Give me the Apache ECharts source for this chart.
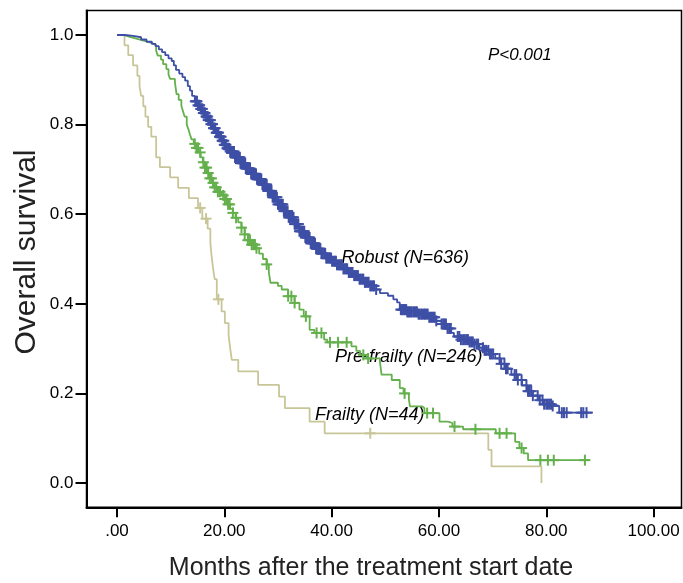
<!DOCTYPE html>
<html>
<head>
<meta charset="utf-8">
<script src="https://cdn.jsdelivr.net/npm/echarts/dist/echarts.min.js"></script>
<style>
html,body{margin:0;padding:0;background:#fff;}
#chart{width:683px;height:583px;}
</style>
</head>
<body>
<div id="chart"></div>
<script>
// ---- Data ----
var xTickValues = [0, 20, 40, 60, 80, 100];
var xTickLabels = ['.00', '20.00', '40.00', '60.00', '80.00', '100.00'];
var yTickValues = [0, 0.2, 0.4, 0.6, 0.8, 1.0];
var yTickLabels = ['0.0', '0.2', '0.4', '0.6', '0.8', '1.0'];

var groupNames = ['Robust (N=636)', 'Pre-frailty (N=246)', 'Frailty (N=44)'];

// Kaplan-Meier steps: [month, survival after event]
var robustSteps = [[0,1],[1.5,0.998],[3,0.995],[4.5,0.99],[5.5,0.985],[6.5,0.98],[7.2,0.975],[7.8,0.968],[8.4,0.962],[9.0,0.955],[9.6,0.948],[10.2,0.942],[10.6,0.932],[11.0,0.922],[11.6,0.914],[12.2,0.906],[12.7,0.898],[13.2,0.886],[13.6,0.876],[14.0,0.864],[14.5,0.852],[15,0.843],[15.5,0.835],[16,0.826],[16.5,0.818],[17,0.81],[17.5,0.801],[18,0.792],[18.5,0.782],[19,0.773],[19.5,0.764],[20,0.755],[20.5,0.747],[21,0.74],[22,0.727],[23,0.714],[24,0.702],[25,0.69],[26,0.678],[27,0.666],[28,0.652],[29,0.638],[30,0.622],[31,0.607],[32,0.593],[33,0.578],[34,0.562],[35,0.548],[36,0.535],[37,0.523],[38,0.512],[39,0.502],[40,0.495],[41,0.487],[42,0.478],[43,0.47],[44,0.463],[45,0.455],[46,0.448],[47,0.44],[48,0.432],[49,0.424],[50.5,0.418],[51.5,0.41],[52.2,0.403],[52.7,0.387],[54,0.382],[56,0.377],[58,0.37],[59.5,0.362],[60.5,0.355],[61.5,0.345],[62.3,0.335],[62.8,0.327],[64,0.32],[65.5,0.315],[66.5,0.31],[67.5,0.302],[68.5,0.296],[69.5,0.288],[70.5,0.278],[71.5,0.266],[72.5,0.255],[73.5,0.242],[74.5,0.23],[75.5,0.218],[76.5,0.205],[77.5,0.195],[78.5,0.185],[79.5,0.176],[81,0.172],[82.4,0.157],[88.7,0.157]];
var robustCensored = [14.6,14.8,14.9,15.1,15.3,15.4,15.6,15.8,15.9,16.1,16.2,16.4,16.6,16.7,16.9,17.0,17.2,17.4,17.5,17.7,17.8,18.0,18.1,18.3,18.5,18.6,18.8,18.9,19.1,19.2,19.4,19.6,19.7,19.9,20.0,20.2,20.3,20.5,20.6,20.8,20.9,21.1,21.3,21.4,21.6,21.8,22.0,22.1,22.3,22.4,22.6,22.7,22.9,23.0,23.2,23.3,23.5,23.7,23.9,24.0,24.2,24.3,24.5,24.6,24.8,25.0,25.2,25.3,25.5,25.6,25.8,25.9,26.1,26.3,26.5,26.6,26.8,26.9,27.1,27.3,27.5,27.6,27.8,27.9,28.1,28.3,28.5,28.6,28.8,29.0,29.2,29.3,29.5,29.6,29.8,30.0,30.2,30.4,30.6,30.7,30.9,31.1,31.3,31.4,31.6,31.8,32.0,32.1,32.3,32.5,32.7,32.9,33.1,33.2,33.4,33.6,33.8,34.0,34.2,34.3,34.5,34.7,34.9,35.1,35.3,35.5,35.7,35.9,36.1,36.3,36.5,36.7,36.9,37.1,37.3,37.5,37.7,37.9,38.1,38.3,38.6,38.8,39.0,39.2,39.5,39.7,39.9,40.1,40.4,40.6,40.8,41.0,41.3,41.5,41.7,41.9,42.2,42.4,42.7,42.9,43.2,43.4,43.7,43.9,44.2,44.4,44.7,44.9,45.2,45.4,45.7,45.9,46.2,46.4,46.7,46.9,47.2,47.4,47.7,47.9,48.3,52.9,53.1,53.3,53.5,53.7,53.9,54.1,54.3,54.5,54.7,54.9,55.2,55.4,55.7,55.9,56.2,56.4,56.7,56.9,57.2,57.4,57.7,57.9,58.2,58.4,58.7,59.0,59.2,59.5,60.5,60.8,61.0,61.3,61.6,61.9,62.2,63.5,63.8,64.1,64.5,64.8,65.1,65.4,65.7,66.0,66.3,66.6,67.0,67.3,68.2,68.5,68.8,69.2,69.5,69.8,70.1,71.3,71.6,72.2,72.5,72.8,74.1,74.4,74.7,75.4,76.3,76.6,76.9,77.2,77.5,78.4,78.8,79.3,79.6,80.0,80.3,80.6,80.9,81.2,82.9,83.3,83.8,86.5,86.9,87.5];

var prefrailSteps = [[0,1],[1.2,0.996],[2.4,0.992],[3.6,0.988],[4.8,0.984],[6.0,0.98],[6.9,0.976],[7.3,0.965],[7.6,0.954],[8.2,0.945],[8.6,0.935],[9.2,0.924],[9.6,0.912],[9.9,0.902],[10.8,0.894],[11.1,0.868],[11.5,0.855],[12.0,0.842],[12.3,0.83],[12.6,0.818],[13.0,0.8],[13.3,0.79],[13.6,0.778],[13.9,0.767],[14.3,0.757],[14.8,0.748],[15.2,0.738],[15.6,0.727],[16.0,0.716],[16.4,0.704],[16.9,0.692],[17.3,0.68],[17.7,0.67],[18.2,0.66],[18.8,0.65],[19.5,0.642],[20.1,0.634],[20.6,0.622],[21.1,0.612],[21.6,0.603],[22.1,0.592],[22.6,0.582],[23.2,0.57],[23.8,0.555],[24.4,0.542],[25.1,0.532],[25.8,0.524],[26.5,0.512],[27.2,0.5],[27.9,0.488],[28.3,0.47],[28.6,0.447],[30.0,0.44],[30.7,0.432],[31.9,0.417],[33.1,0.402],[34.0,0.387],[34.8,0.372],[35.9,0.342],[36.8,0.335],[38.6,0.32],[39.2,0.314],[43.7,0.305],[44.6,0.295],[45.3,0.286],[46.5,0.278],[49.0,0.271],[49.3,0.242],[51.2,0.23],[52.7,0.212],[53.4,0.2],[54.4,0.186],[54.6,0.171],[56.9,0.167],[57.3,0.156],[60.1,0.137],[61.7,0.134],[62.5,0.126],[64.5,0.12],[70.6,0.111],[74.2,0.092],[75.0,0.078],[75.8,0.066],[76.6,0.051],[88.1,0.051]];
var prefrailCensored = [14.5,14.8,15.1,15.5,16.1,16.4,16.7,17.0,17.3,17.6,17.9,18.2,18.5,18.8,19.2,19.8,20.1,20.4,20.7,21.0,21.6,22.2,23.2,23.8,24.4,24.8,25.1,25.4,25.7,26.0,27.9,31.9,32.5,33.1,35.2,37.2,38.1,39.7,41.2,42.8,45.9,46.8,53.6,57.8,58.9,62.9,66.8,71.3,72.6,75.4,78.9,80.3,81.4,87.2];

var frailSteps = [[0,1],[1.4,0.977],[2.1,0.955],[3.0,0.932],[3.8,0.909],[4.2,0.886],[4.5,0.864],[4.9,0.841],[5.3,0.818],[5.8,0.795],[6.4,0.773],[7.3,0.727],[8.0,0.705],[9.9,0.682],[11.4,0.659],[13.4,0.636],[15.1,0.614],[15.9,0.59],[16.9,0.568],[17.4,0.537],[17.6,0.51],[17.9,0.48],[18.2,0.455],[18.6,0.41],[19.5,0.383],[20.1,0.357],[20.8,0.33],[21.1,0.3],[21.4,0.275],[22.6,0.249],[26.3,0.219],[30.2,0.193],[31.3,0.167],[35.9,0.137],[38.7,0.111],[69.2,0.074],[69.8,0.037],[79.1,0]];
var frailCensored = [15.5,16.6,18.9,47.2];

var annotationText = 'P<0.001';
var xTitle = 'Months after the treatment start date';
var yTitle = 'Overall survival';

// ---- Styles ----
var colors = ['#3e4fa6', '#64b04c', '#c8c699'];
var FONT = '"Liberation Sans", Arial, Helvetica, sans-serif';

function survivalAt(steps, t) {
  var s = steps[0][1];
  for (var i = 0; i < steps.length; i++) {
    if (steps[i][0] <= t) s = steps[i][1]; else break;
  }
  return s;
}
function censorPoints(steps, times) {
  return times.map(function (t) { return [t, survivalAt(steps, t)]; });
}
function plusRenderer(color) {
  return function (params, api) {
    var p = api.coord([api.value(0), api.value(1)]);
    var st = { stroke: color, lineWidth: 2 };
    return {
      type: 'group',
      children: [
        { type: 'line', shape: { x1: p[0] - 5.5, y1: p[1], x2: p[0] + 5.5, y2: p[1] }, style: st },
        { type: 'line', shape: { x1: p[0], y1: p[1] - 5.5, x2: p[0], y2: p[1] + 5.5 }, style: st }
      ]
    };
  };
}
function labelFor(values, labels, v) {
  for (var i = 0; i < values.length; i++) if (Math.abs(values[i] - v) < 1e-6) return labels[i];
  return '';
}

var allSteps = [robustSteps, prefrailSteps, frailSteps];
var allCens = [robustCensored, prefrailCensored, frailCensored];
var series = [];
for (var k = 2; k >= 0; k--) {
  series.push({
    name: groupNames[k], type: 'line', step: 'end', data: allSteps[k],
    showSymbol: false, symbol: 'none', animation: false,
    lineStyle: { color: colors[k], width: 1.8 }, z: 2
  });
  series.push({
    name: groupNames[k] + ' censored', type: 'custom', animation: false,
    data: censorPoints(allSteps[k], allCens[k]),
    renderItem: plusRenderer(colors[k]), z: 3
  });
}

var chart = echarts.init(document.getElementById('chart'), null, { renderer: 'canvas' });
chart.setOption({
  animation: false,
  backgroundColor: '#ffffff',
  grid: {
    left: 86.5, top: 10.5, right: 1.5, bottom: 75.7,
    show: true, borderColor: '#000', borderWidth: 1.5, backgroundColor: 'transparent'
  },
  xAxis: {
    type: 'value', min: -5.68, max: 105.2,
    axisLine: { show: true, onZero: false, lineStyle: { color: '#000', width: 2 } },
    axisTick: { show: true, customValues: xTickValues, length: 10, lineStyle: { color: '#000', width: 2 } },
    axisLabel: {
      customValues: xTickValues, margin: 16, color: '#000', fontSize: 17, fontFamily: FONT,
      formatter: function (v) { return labelFor(xTickValues, xTickLabels, v); }
    },
    splitLine: { show: false }
  },
  yAxis: {
    type: 'value', min: -0.0542, max: 1.0547,
    axisLine: { show: true, onZero: false, lineStyle: { color: '#000', width: 2 } },
    axisTick: { show: true, customValues: yTickValues, length: 11, lineStyle: { color: '#000', width: 2 } },
    axisLabel: {
      customValues: yTickValues, margin: 13, color: '#000', fontSize: 17, fontFamily: FONT,
      formatter: function (v) { return labelFor(yTickValues, yTickLabels, v); }
    },
    splitLine: { show: false }
  },
  graphic: [
    { type: 'text', x: 371, y: 568, style: { text: xTitle, font: '25px ' + FONT, fill: '#222', textAlign: 'center', textVerticalAlign: 'middle' } },
    { type: 'text', x: 27, y: 252, rotation: Math.PI / 2, style: { text: yTitle, font: '30px ' + FONT, fill: '#222', textAlign: 'center', textVerticalAlign: 'middle' } },
    { type: 'text', x: 488, y: 55, style: { text: annotationText, font: 'italic 17px ' + FONT, fill: '#000', textAlign: 'left', textVerticalAlign: 'middle' } },
    { type: 'text', x: 341.5, y: 258, style: { text: groupNames[0], font: 'italic 18px ' + FONT, fill: '#000', textAlign: 'left', textVerticalAlign: 'middle' } },
    { type: 'text', x: 335, y: 357, style: { text: groupNames[1], font: 'italic 18px ' + FONT, fill: '#000', textAlign: 'left', textVerticalAlign: 'middle' } },
    { type: 'text', x: 315, y: 415, style: { text: groupNames[2], font: 'italic 18px ' + FONT, fill: '#000', textAlign: 'left', textVerticalAlign: 'middle' } }
  ],
  series: series
});
</script>
</body>
</html>
